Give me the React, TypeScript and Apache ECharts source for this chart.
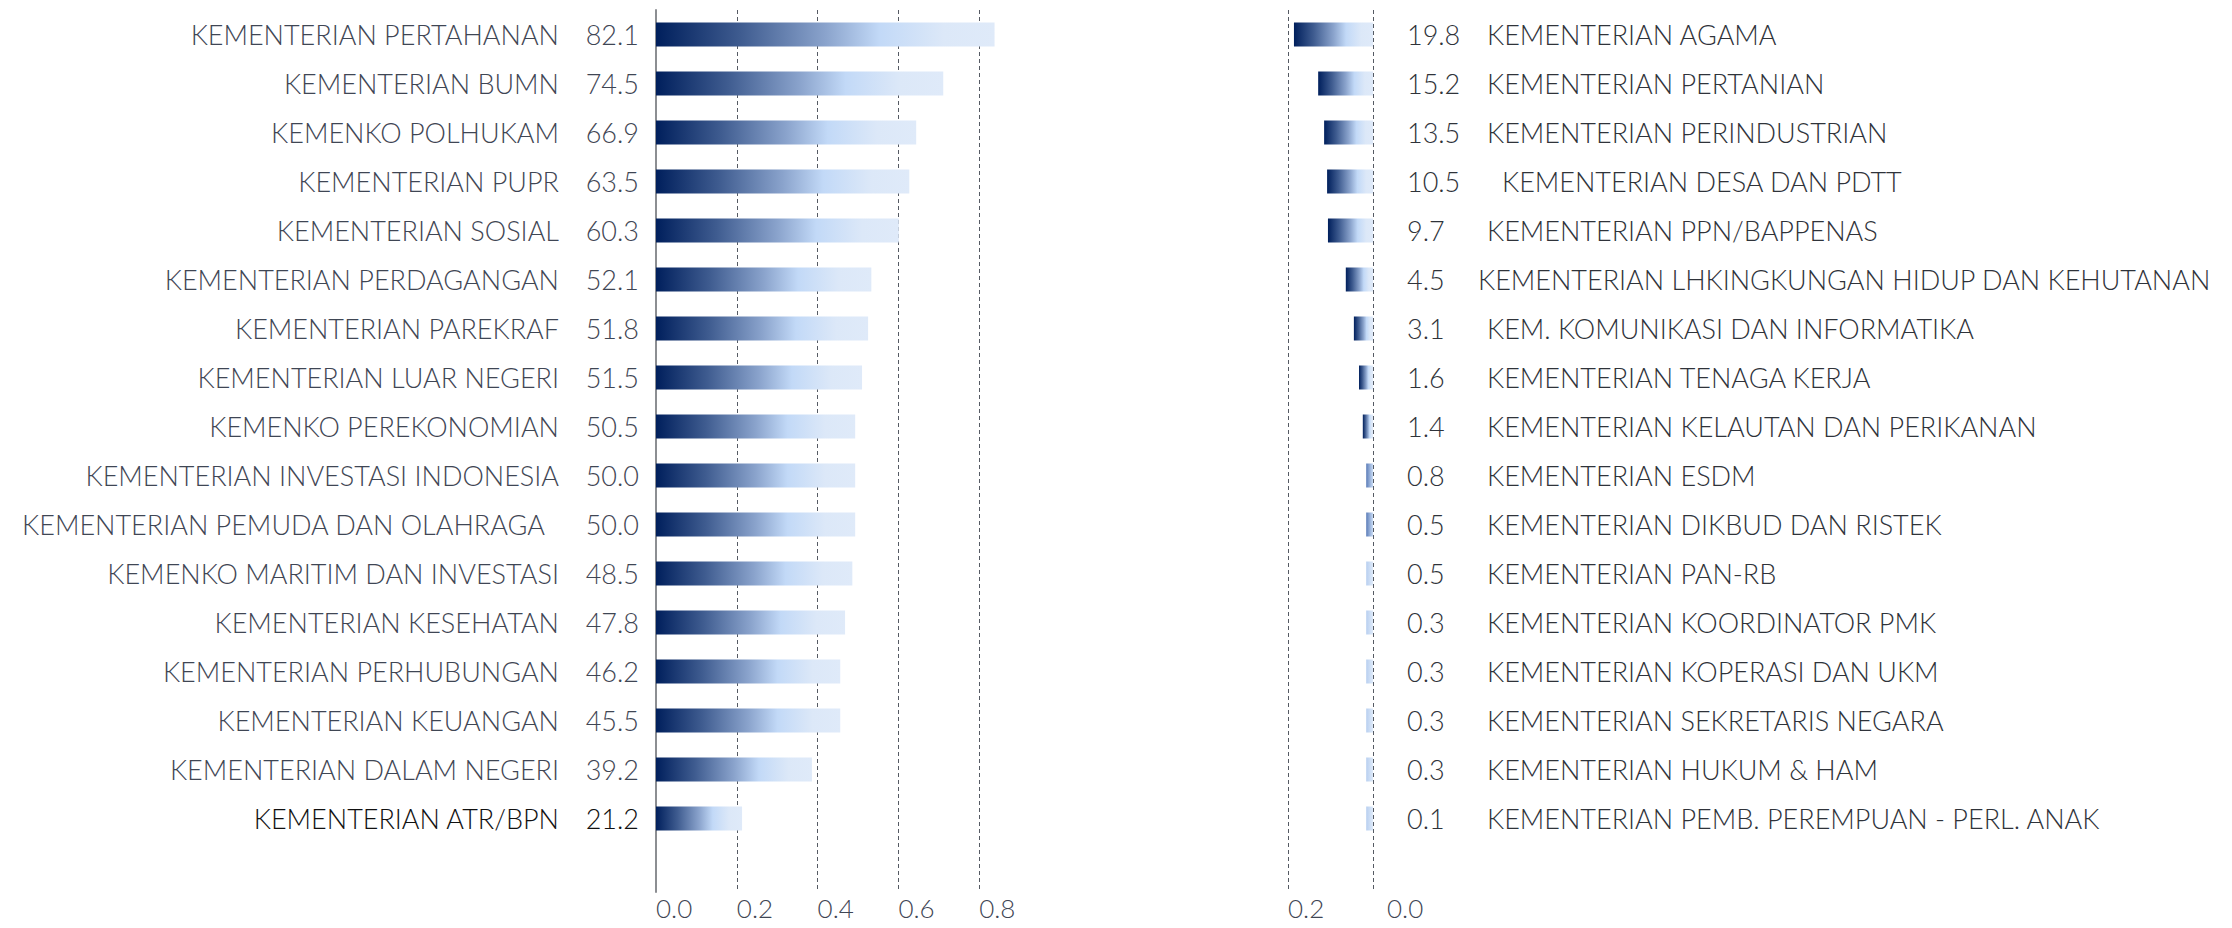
import React, { useEffect, useRef } from "react";
import * as echarts from "echarts";

// ---------- data ----------
const leftNames = [
  "KEMENTERIAN PERTAHANAN",
  "KEMENTERIAN BUMN",
  "KEMENKO POLHUKAM",
  "KEMENTERIAN PUPR",
  "KEMENTERIAN SOSIAL",
  "KEMENTERIAN PERDAGANGAN",
  "KEMENTERIAN PAREKRAF",
  "KEMENTERIAN LUAR NEGERI",
  "KEMENKO PEREKONOMIAN",
  "KEMENTERIAN INVESTASI INDONESIA",
  "KEMENTERIAN PEMUDA DAN OLAHRAGA",
  "KEMENKO MARITIM DAN INVESTASI",
  "KEMENTERIAN KESEHATAN",
  "KEMENTERIAN PERHUBUNGAN",
  "KEMENTERIAN KEUANGAN",
  "KEMENTERIAN DALAM NEGERI",
  "KEMENTERIAN ATR/BPN",
];
const leftLabels = [82.1, 74.5, 66.9, 63.5, 60.3, 52.1, 51.8, 51.5, 50.5, 50.0, 50.0, 48.5, 47.8, 46.2, 45.5, 39.2, 21.2];
// bar lengths as drawn in the picture (axis units)
const leftBars = [0.838, 0.711, 0.644, 0.627, 0.601, 0.533, 0.525, 0.51, 0.493, 0.493, 0.493, 0.486, 0.468, 0.456, 0.456, 0.386, 0.213];

const rightNames = [
  "KEMENTERIAN AGAMA",
  "KEMENTERIAN PERTANIAN",
  "KEMENTERIAN PERINDUSTRIAN",
  "KEMENTERIAN DESA DAN PDTT",
  "KEMENTERIAN PPN/BAPPENAS",
  "KEMENTERIAN LHKINGKUNGAN HIDUP DAN KEHUTANAN",
  "KEM. KOMUNIKASI DAN INFORMATIKA",
  "KEMENTERIAN TENAGA KERJA",
  "KEMENTERIAN KELAUTAN DAN PERIKANAN",
  "KEMENTERIAN ESDM",
  "KEMENTERIAN DIKBUD DAN RISTEK",
  "KEMENTERIAN PAN-RB",
  "KEMENTERIAN KOORDINATOR PMK",
  "KEMENTERIAN KOPERASI DAN UKM",
  "KEMENTERIAN SEKRETARIS NEGARA",
  "KEMENTERIAN HUKUM & HAM",
  "KEMENTERIAN PEMB. PEREMPUAN - PERL. ANAK",
];
const rightLabels = [19.8, 15.2, 13.5, 10.5, 9.7, 4.5, 3.1, 1.6, 1.4, 0.8, 0.5, 0.5, 0.3, 0.3, 0.3, 0.3, 0.1];
const rightBars = [0.186, 0.129, 0.115, 0.108, 0.106, 0.064, 0.045, 0.033, 0.024, 0.016, 0.016, 0.016, 0.016, 0.016, 0.016, 0.016, 0.016];

const leftTicks = { min: 0, max: 1.0, interval: 0.2 };
const rightTicks = { min: 0, max: 0.2, interval: 0.2 };

// ---------- style ----------
const FONT = "Lato";
const NAME_COLOR = "#3f4654";
const RIGHT_COLOR = "#2f333a";
const FS = 27;
const TICK_FS = 26;

const fullGrad = () =>
  new echarts.graphic.LinearGradient(0, 0, 1, 0, [
    { offset: 0, color: "#001f5c" },
    { offset: 0.25, color: "#3f5c90" },
    { offset: 0.5, color: "#8aa3cc" },
    { offset: 0.66, color: "#c2d9f7" },
    { offset: 0.85, color: "#dce8f8" },
    { offset: 1, color: "#dfeaf9" },
  ]);
const midGrad = () =>
  new echarts.graphic.LinearGradient(0, 0, 1, 0, [
    { offset: 0, color: "#5b7cb8" },
    { offset: 1, color: "#c9dcf5" },
  ]);
const lightGrad = () =>
  new echarts.graphic.LinearGradient(0, 0, 1, 0, [
    { offset: 0, color: "#b8cff0" },
    { offset: 1, color: "#deeaf9" },
  ]);

export default function App() {
  const ref = useRef<HTMLDivElement>(null);

  useEffect(() => {
    document.body.style.margin = "0";
    document.body.style.overflow = "hidden";
    if (!ref.current) return;
    const chart = echarts.init(ref.current, null, { renderer: "svg" });

    const option: any = {
      animation: false,
      backgroundColor: "#ffffff",
      grid: [
        { left: 656, width: 404, top: 10, height: 882, containLabel: false },
        { left: 1288, width: 85, top: 10, height: 882, containLabel: false },
      ],
      xAxis: [
        {
          type: "value",
          gridIndex: 0,
          min: leftTicks.min,
          max: leftTicks.max,
          interval: leftTicks.interval,
          axisLine: { show: false },
          axisTick: { show: false },
          splitLine: {
            show: true,
            showMinLine: false,
            showMaxLine: false,
            lineStyle: { color: "#555a63", type: [4, 3], width: 1 },
          },
          axisLabel: {
            showMaxLabel: false,
            align: "left",
            margin: 6,
            lineHeight: 20,
            fontFamily: FONT,
            fontWeight: 300,
            fontSize: TICK_FS,
            color: NAME_COLOR,
            formatter: (v: number) => v.toFixed(1),
          },
        },
        {
          type: "value",
          gridIndex: 1,
          inverse: true,
          min: rightTicks.min,
          max: rightTicks.max,
          interval: rightTicks.interval,
          axisLine: { show: false },
          axisTick: { show: false },
          splitLine: {
            show: true,
            showMinLine: true,
            showMaxLine: true,
            lineStyle: { color: "#555a63", type: [4, 3], width: 1 },
          },
          axisLabel: {
            align: "left",
            margin: 6,
            lineHeight: 20,
            fontFamily: FONT,
            fontWeight: 300,
            fontSize: TICK_FS,
            color: NAME_COLOR,
            formatter: (v: number) => (v === 0 ? "{z|" + v.toFixed(1) + "}" : v.toFixed(1)),
            rich: {
              z: { padding: [0, 0, 0, 14], lineHeight: 20, fontFamily: FONT, fontWeight: 300, fontSize: TICK_FS, color: NAME_COLOR },
            },
          },
        },
      ],
      yAxis: [
        {
          type: "category",
          gridIndex: 0,
          inverse: true,
          data: [...leftNames, ""],
          axisTick: { show: false },
          axisLine: { show: true, lineStyle: { color: "#8c8e92", width: 2 } },
          axisLabel: {
            align: "right",
            margin: 17,
            interval: 0,
            formatter: (name: string, idx: number) => {
              if (!name) return "";
              const val = leftLabels[idx].toFixed(1);
              if (idx === leftNames.length - 1) return `{nb|${name}}{vb|${val}}`;
              if (name === "KEMENTERIAN PEMUDA DAN OLAHRAGA") return `{np|${name}}{v|${val}}`;
              return `{n|${name}}{v|${val}}`;
            },
            rich: {
              n: { fontFamily: FONT, fontWeight: 300, fontSize: FS, color: NAME_COLOR },
              np: { fontFamily: FONT, fontWeight: 300, fontSize: FS, color: NAME_COLOR, padding: [0, 14, 0, 0] },
              v: { fontFamily: FONT, fontWeight: 300, fontSize: FS, color: NAME_COLOR, width: 80, align: "right" },
              nb: { fontFamily: FONT, fontWeight: 300, fontSize: FS, color: "#111111" },
              vb: { fontFamily: FONT, fontWeight: 300, fontSize: FS, color: "#111111", width: 80, align: "right" },
            },
          },
        },
        {
          type: "category",
          gridIndex: 1,
          inverse: true,
          position: "right",
          data: [...rightNames, ""],
          axisTick: { show: false },
          axisLine: { show: false },
          axisLabel: {
            align: "left",
            margin: 34,
            interval: 0,
            formatter: (name: string, idx: number) => {
              if (!name) return "";
              const val = rightLabels[idx].toFixed(1);
              if (name === "KEMENTERIAN DESA DAN PDTT") return `{vw|${val}}{n|${name}}`;
              if (name === "KEMENTERIAN LHKINGKUNGAN HIDUP DAN KEHUTANAN") return `{vn|${val}}{n|${name}}`;
              return `{v|${val}}{n|${name}}`;
            },
            rich: {
              n: { fontFamily: FONT, fontWeight: 300, fontSize: FS, color: RIGHT_COLOR },
              v: { fontFamily: FONT, fontWeight: 300, fontSize: FS, color: RIGHT_COLOR, width: 80, align: "left" },
              vw: { fontFamily: FONT, fontWeight: 300, fontSize: FS, color: RIGHT_COLOR, width: 95, align: "left" },
              vn: { fontFamily: FONT, fontWeight: 300, fontSize: FS, color: RIGHT_COLOR, width: 71, align: "left" },
            },
          },
        },
      ],
      series: [
        {
          type: "bar",
          xAxisIndex: 0,
          yAxisIndex: 0,
          barWidth: 24,
          data: leftBars.map((v) => ({ value: v, itemStyle: { color: fullGrad() } })),
        },
        {
          type: "bar",
          xAxisIndex: 1,
          yAxisIndex: 1,
          barWidth: 24,
          data: rightBars.map((v, i) => ({
            value: v,
            itemStyle: { color: i <= 8 ? fullGrad() : i <= 10 ? midGrad() : lightGrad() },
          })),
        },
      ],
    };

    chart.setOption(option);
    return () => chart.dispose();
  }, []);

  return <div ref={ref} style={{ width: 2232, height: 928 }} />;
}
